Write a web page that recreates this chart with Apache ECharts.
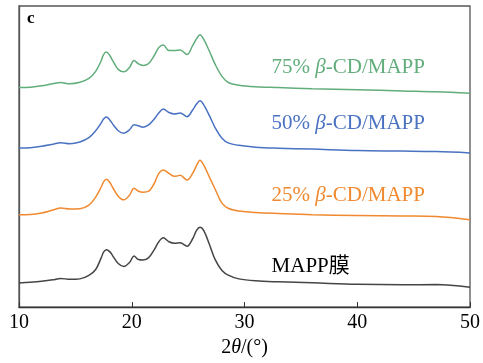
<!DOCTYPE html>
<html>
<head>
<meta charset="utf-8">
<script src="https://cdn.jsdelivr.net/npm/echarts@6/dist/echarts.min.js"></script>
<style>
  html, body { margin: 0; padding: 0; background: #fff; }
  #chart { width: 483px; height: 363px; }
</style>
</head>
<body>
<div id="chart"></div>
<script>
// 2theta positions (deg) shared by all patterns
const angles = [10, 11, 12, 13, 13.7, 14.5, 15.4, 16.2, 16.8, 17.3, 17.5, 17.75, 18.05, 18.3, 18.8, 19.3, 19.8, 20.2, 20.6, 21.0, 21.5, 22.0,
  22.4, 22.8, 23.3, 23.8, 24.3, 24.9, 25.4, 25.75, 26.05, 26.4, 26.9, 27.4, 28.0, 28.6, 29.5, 31, 33, 36, 40, 44, 47, 50];

// intensities (a.u., already stacked)
const mapp = [24.3, 25, 26, 27.5, 29, 28, 28.5, 32, 38, 50, 55.5, 58, 56, 52, 44, 41, 45, 51.5, 48, 47.5, 50, 58,
  66, 70, 66, 64.5, 65, 61.5, 69, 77.5, 80.5, 77, 63, 48, 37, 32, 28.5, 26.5, 25.5, 24.5, 23, 22.5, 22.7, 20];
const cd25 = [93.3, 93.5, 95, 98, 100, 99, 99.3, 103, 111, 121.5, 126.5, 129, 126, 121, 112, 108.3, 113, 120, 117, 116, 117, 125,
  135, 138.3, 135, 132, 133, 128.3, 135, 143, 148.3, 143, 131, 119, 105, 99.5, 97, 95.5, 94.5, 93.3, 92.5, 92, 91.5, 88.3];
const cd50 = [160.7, 161, 162.5, 164.5, 166, 165, 166.7, 171, 178, 186, 190, 192, 189, 185, 178, 175.5, 179, 184, 183, 181.7, 184, 190,
  196, 200, 196.5, 195, 196, 192.3, 199, 205, 208.3, 204, 193, 181, 170.5, 165.5, 163.3, 161.5, 160.5, 159.5, 158, 157.5, 157, 155.7];
const cd75 = [221.7, 222, 223.5, 225.5, 226.7, 225.5, 227, 231, 238, 249, 255, 257.5, 254, 249, 240, 237.5, 242, 249, 245.5, 244, 246, 254,
  262, 264.5, 259, 259, 259.5, 255, 264, 271, 275, 270, 258, 245, 233, 226.5, 224, 222.5, 221.7, 220.5, 219.5, 218.3, 217.5, 216];

const names = ['MAPP膜', '25% β-CD/MAPP', '50% β-CD/MAPP', '75% β-CD/MAPP'];
const colors = ['#454545', '#f0892f', '#4a72c2', '#62ad7c'];
const textColors = ['#000', '#f0892f', '#4a72c2', '#62ad7c'];
const xTicks = [10, 20, 30, 40, 50];

const font = 'Liberation Serif, Times New Roman, serif';
const chart = echarts.init(document.getElementById('chart'));

function pairs(ys) { return angles.map((a, i) => [a, ys[i]]); }

const allData = [mapp, cd25, cd50, cd75];
const series = allData.map((ys, i) => ({
  name: names[i],
  type: 'line',
  data: pairs(ys),
  showSymbol: false,
  smooth: 0.35,
  lineStyle: { color: colors[i], width: 1.5 },
  itemStyle: { color: colors[i] },
  silent: true
}));

chart.setOption({
  animation: false,
  grid: { left: 19, right: 10, top: 6, bottom: 53, show: true, borderColor: '#555', borderWidth: 1.3 },
  xAxis: {
    type: 'value', min: 10, max: 50, interval: 10,
    axisLine: { show: true, lineStyle: { color: '#333', width: 1.3 } },
    axisTick: { show: true, inside: true, length: 5, lineStyle: { color: '#333' } },
    splitLine: { show: false },
    axisLabel: { color: '#000', fontFamily: font, fontSize: 20, margin: 6,
      formatter: v => xTicks.includes(v) ? String(v) : '' },
    name: '{n|2}{i|θ}{n|/(°)}',
    nameLocation: 'middle',
    nameGap: 28,
    nameTextStyle: {
      rich: {
        n: { fontFamily: font, fontSize: 20, color: '#000' },
        i: { fontFamily: font, fontSize: 20, fontStyle: 'italic', color: '#000' }
      }
    }
  },
  yAxis: {
    type: 'value', min: 0, max: 304,
    axisLine: { show: true, lineStyle: { color: '#555', width: 1.3 } },
    axisTick: { show: false }, axisLabel: { show: false }, splitLine: { show: false }
  },
  series: series
});

// label anchors in data coords (2theta, intensity at text centre)
const labelPos = [[32.4, 41], [32.4, 113], [32.4, 185], [32.4, 242]];
const labelParts = [
  ['MAPP膜'],
  ['25% ', 'β', '-CD/MAPP'],
  ['50% ', 'β', '-CD/MAPP'],
  ['75% ', 'β', '-CD/MAPP']
];

const graphics = labelPos.map((p, i) => {
  const px = chart.convertToPixel({ gridIndex: 0 }, p);
  const parts = labelParts[i];
  const text = parts.length === 1 ? '{n|' + parts[0] + '}' : '{n|' + parts[0] + '}{i|' + parts[1] + '}{n|' + parts[2] + '}';
  return {
    type: 'text', x: px[0], y: px[1], silent: true,
    style: {
      text: text,
      verticalAlign: 'middle',
      rich: {
        n: { fontFamily: font + ', Noto Sans CJK SC', fontSize: 21, fill: textColors[i] },
        i: { fontFamily: font, fontSize: 21, fontStyle: 'italic', fill: textColors[i] }
      }
    }
  };
});
graphics.push({
  type: 'text', x: 27, y: 19, silent: true,
  style: { text: 'c', fontFamily: font, fontSize: 17, fontWeight: 'bold', fill: '#000', verticalAlign: 'middle' }
});
chart.setOption({ graphic: graphics });
</script>
</body>
</html>
